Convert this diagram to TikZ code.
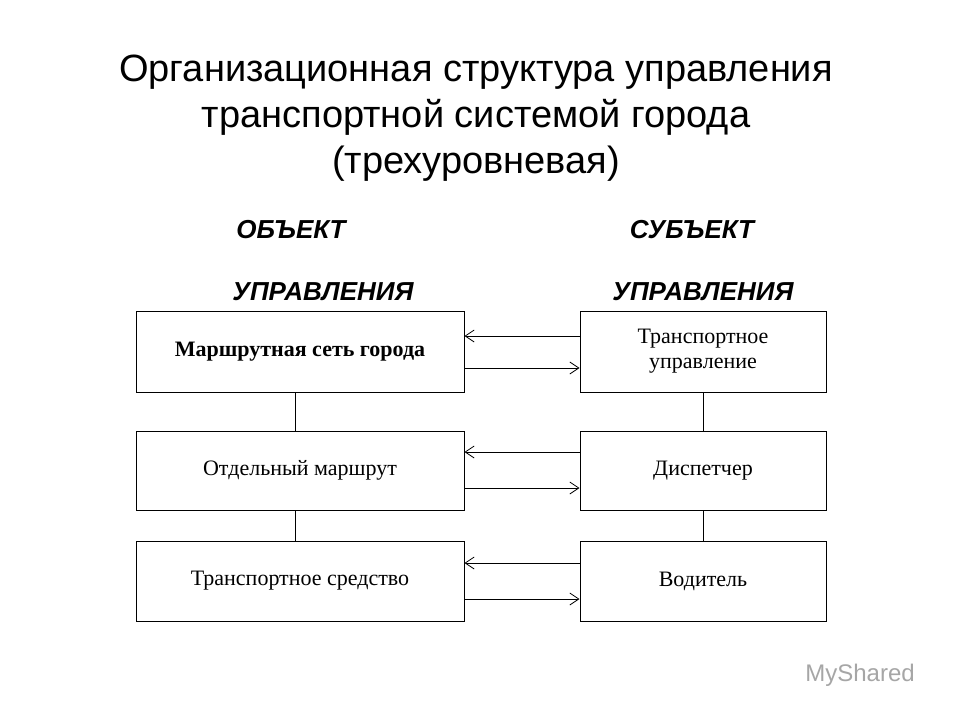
\documentclass[tikz,border=0pt]{standalone}
\usepackage{fontspec}
\setmainfont{Liberation Serif}
\newfontfamily\arial{Liberation Sans}
\usetikzlibrary{arrows.meta}
\begin{document}
\begin{tikzpicture}[x=1pt,y=-1pt,
  box/.style={draw,line width=1pt,inner sep=0pt,font=\fontsize{22}{25}\selectfont,align=center},
  hd/.style={font=\arial\fontsize{26}{28}\selectfont\bfseries\itshape},
  arr/.style={line width=0.8pt,-{Straight Barb[length=9pt,width=12pt]}},
  lnk/.style={line width=0.8pt}]
\useasboundingbox (0,0) rectangle (960,720);
\fill[white] (0,0) rectangle (960,720);
\node[font=\arial\fontsize{38}{46}\selectfont,align=center] (title) at (476,118)
 {Организационная структура управления\\транспортной системой города\\(трехуровневая)};
\node[hd] (h1) at (291,230) {ОБЪЕКТ};
\node[hd] (h2) at (323,292) {УПРАВЛЕНИЯ};
\node[hd] (h3) at (692,230) {СУБЪЕКТ};
\node[hd] (h4) at (703,292) {УПРАВЛЕНИЯ};
\node[box,minimum width=328pt,minimum height=81pt,font=\fontsize{22}{25}\selectfont\bfseries] (l1) at (300,351.5) {Маршрутная сеть города};
\node[box,minimum width=328pt,minimum height=79pt] (l2) at (300,470.5) {Отдельный маршрут};
\node[box,minimum width=328pt,minimum height=80pt] (l3) at (300,581) {Транспортное средство};
\node[box,minimum width=246pt,minimum height=81pt] (r1) at (703,351.5) {Транспортное\\управление};
\node[box,minimum width=246pt,minimum height=79pt] (r2) at (703,470.5) {Диспетчер};
\node[box,minimum width=246pt,minimum height=80pt] (r3) at (703,581) {Водитель};
\draw[lnk] (l1.south -| 295,0) -- (l2.north -| 295,0);
\draw[lnk] (l2.south -| 295,0) -- (l3.north -| 295,0);
\draw[lnk] (r1.south) -- (r2.north);
\draw[lnk] (r2.south) -- (r3.north);
\foreach \a/\b/\u/\d in {l1/r1/336/368,l2/r2/452/488,l3/r3/563/599}{
  \draw[arr] (\b.west |- 0,\u) -- (\a.east |- 0,\u);
  \draw[arr] (\a.east |- 0,\d) -- (\b.west |- 0,\d);
}
\node[font=\arial\fontsize{24}{26}\selectfont,text=gray!70] (wm) at (860,675) {MyShared};
\end{tikzpicture}
\end{document}
